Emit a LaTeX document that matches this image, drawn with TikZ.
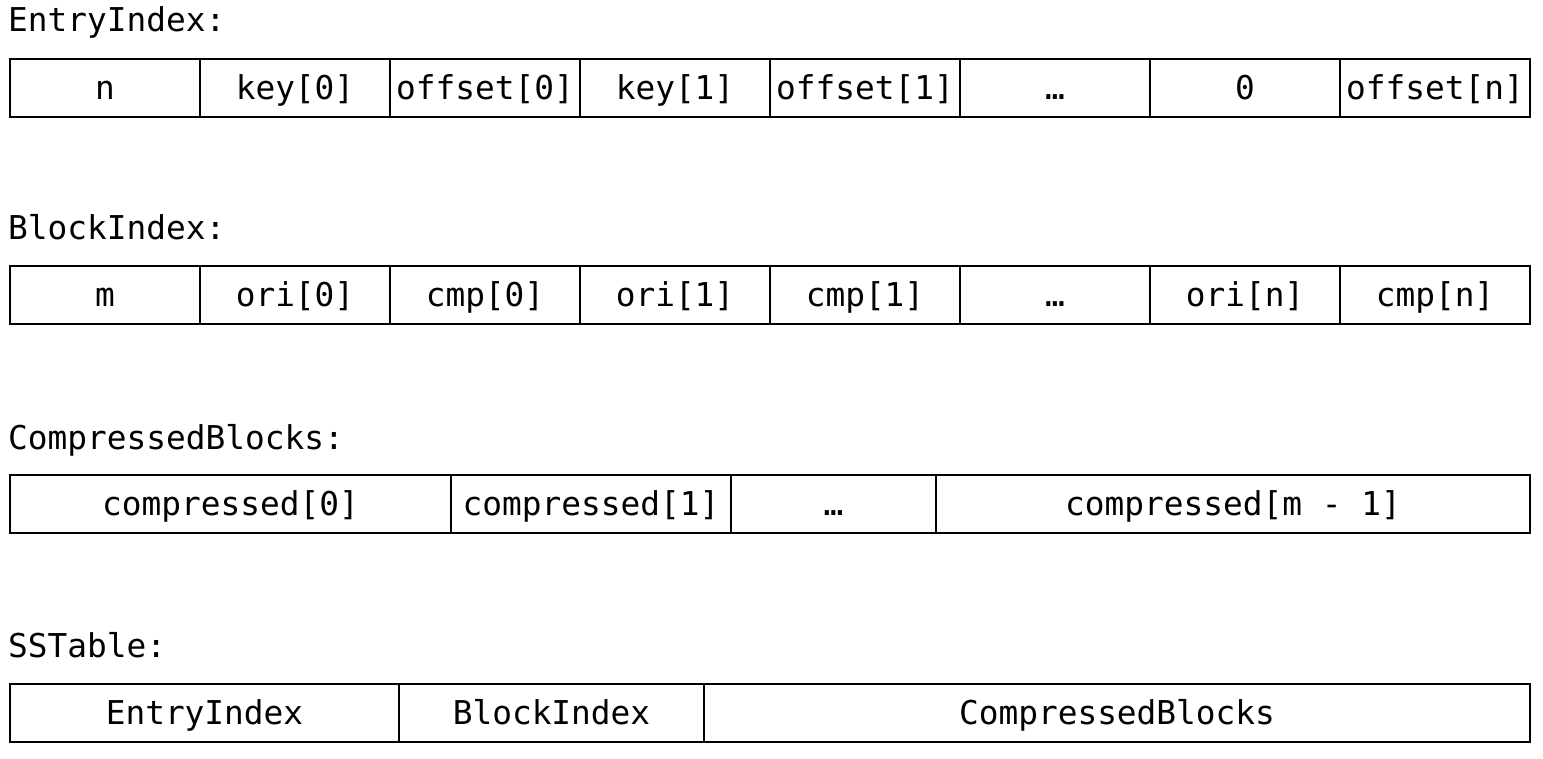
\documentclass[tikz,border=0pt]{standalone}
\usepackage{fontspec}
\setmonofont{DejaVu Sans Mono}
\usetikzlibrary{positioning}

\begin{document}
\begin{tikzpicture}[x=1pt,y=-1pt]
	\tikzstyle{every node}=[font=\ttfamily\fontsize{32.8}{39}\selectfont]
	\tikzstyle{cell}=[draw=black, line width=1.5pt, inner sep=0pt, minimum height=58pt, text height=23pt, text depth=0pt]
	\tikzstyle{title}=[anchor=base west, inner sep=0pt]

	\useasboundingbox (0,0) rectangle (1543,759);

	%% EntryIndex
	\node [title] (ttlEntry) at (8,32) {EntryIndex:};
	\node [cell, minimum width=190pt] (eN)    at (105,88)  {n};
	\node [cell, minimum width=190pt] (eKey0) at (295,88)  {key[0]};
	\node [cell, minimum width=190pt] (eOff0) at (485,88)  {offset[0]};
	\node [cell, minimum width=190pt] (eKey1) at (675,88)  {key[1]};
	\node [cell, minimum width=190pt] (eOff1) at (865,88)  {offset[1]};
	\node [cell, minimum width=190pt] (eDots) at (1055,88) {…};
	\node [cell, minimum width=190pt] (eZero) at (1245,88) {0};
	\node [cell, minimum width=190pt] (eOffN) at (1435,88) {offset[n]};

	%% BlockIndex
	\node [title] (ttlBlock) at (8,240) {BlockIndex:};
	\node [cell, minimum width=190pt] (bM)    at (105,295)  {m};
	\node [cell, minimum width=190pt] (bOri0) at (295,295)  {ori[0]};
	\node [cell, minimum width=190pt] (bCmp0) at (485,295)  {cmp[0]};
	\node [cell, minimum width=190pt] (bOri1) at (675,295)  {ori[1]};
	\node [cell, minimum width=190pt] (bCmp1) at (865,295)  {cmp[1]};
	\node [cell, minimum width=190pt] (bDots) at (1055,295) {…};
	\node [cell, minimum width=190pt] (bOriN) at (1245,295) {ori[n]};
	\node [cell, minimum width=190pt] (bCmpN) at (1435,295) {cmp[n]};

	%% CompressedBlocks
	\node [title] (ttlComp) at (8,449) {CompressedBlocks:};
	\node [cell, minimum width=441pt] (cZero) at (230.5,504) {compressed[0]};
	\node [cell, minimum width=280pt] (cOne)  at (591,504)   {compressed[1]};
	\node [cell, minimum width=205pt] (cDots) at (833.5,504) {…};
	\node [cell, minimum width=594pt] (cLast) at (1233,504)  {compressed[m - 1]};

	%% SSTable
	\node [title] (ttlTable) at (8,657) {SSTable:};
	\node [cell, minimum width=389pt] (sEntry) at (204.5,713) {EntryIndex};
	\node [cell, minimum width=305pt] (sBlock) at (551.5,713) {BlockIndex};
	\node [cell, minimum width=826pt] (sComp)  at (1117,713)  {CompressedBlocks};

\end{tikzpicture}
\end{document}
